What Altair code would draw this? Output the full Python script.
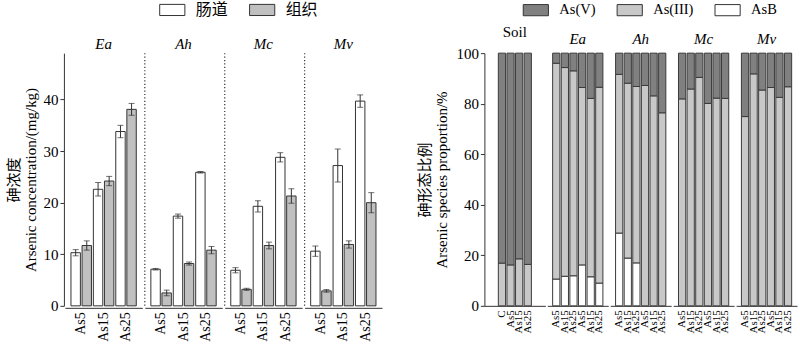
import altair as alt
import pandas as pd
import json

FONT = "Liberation Serif, Noto Sans CJK SC, serif"
DARK = "#333333"

# ---------------- left chart data ----------------
species = ["Ea", "Ah", "Mc", "Mv"]
treatments = ["As5", "As15", "As25"]
tissues = ["肠道", "组织"]
gut_mean = [10.3, 22.6, 33.8, 7.1, 17.4, 25.9, 6.9, 19.3, 28.8, 10.6, 27.2, 39.7]
gut_err = [0.6, 1.3, 1.2, 0.15, 0.4, 0.15, 0.5, 1.1, 0.9, 1.0, 3.2, 1.2]
tissue_mean = [11.7, 24.2, 38.1, 2.5, 8.2, 10.8, 3.2, 11.7, 21.3, 2.9, 11.9, 20.0]
tissue_err = [0.9, 0.9, 1.15, 0.55, 0.3, 0.7, 0.2, 0.65, 1.4, 0.25, 0.7, 1.95]

# ---------------- right chart data ----------------
groups = ["Soil", "Ea", "Ah", "Mc", "Mv"]
soil_labels = ["", "C", "As5", "As15", "As25", ""]
animal_labels = ["As5", "As15", "As25", "As5", "As15", "As25"]
asb = {
    "Soil": [0, 0, 0, 0],
    "Ea": [10.6, 11.7, 11.9, 16.2, 11.5, 9.0],
    "Ah": [28.8, 18.9, 17.0, 0, 0, 0],
    "Mc": [0, 0, 0, 0, 0, 0],
    "Mv": [0, 0, 0, 0, 0, 0],
}
as3 = {
    "Soil": [16.9, 16.2, 18.6, 16.4],
    "Ea": [85.4, 82.6, 81.1, 70.2, 70.6, 77.5],
    "Ah": [62.8, 69.2, 69.8, 87.2, 83.1, 76.4],
    "Mc": [81.9, 85.8, 90.4, 80.1, 82.2, 82.1],
    "Mv": [74.9, 91.8, 85.4, 86.4, 82.5, 86.7],
}
as5 = {
    "Soil": [83.1, 83.8, 81.4, 83.6],
    "Ea": [4.0, 5.7, 7.0, 13.6, 17.9, 13.5],
    "Ah": [8.4, 11.9, 13.2, 12.8, 16.9, 23.6],
    "Mc": [18.1, 14.2, 9.6, 19.9, 17.8, 17.9],
    "Mv": [25.1, 8.2, 14.6, 13.6, 17.5, 13.3],
}
species_types = ["As(V)", "As(III)", "AsB"]

H = 253
SYM = "M-1.4,-0.62H1.4V0.62H-1.4Z"

# ---------------- left chart ----------------
rows = []
for i, sp in enumerate(species):
    for j, t in enumerate(treatments):
        k = i * 3 + j
        rows.append(dict(species=sp, treat=t, tissue=tissues[0], value=gut_mean[k],
                         lo=gut_mean[k] - gut_err[k], hi=gut_mean[k] + gut_err[k]))
        rows.append(dict(species=sp, treat=t, tissue=tissues[1], value=tissue_mean[k],
                         lo=tissue_mean[k] - tissue_err[k], hi=tissue_mean[k] + tissue_err[k]))
ldf = pd.DataFrame(rows)

xscale = alt.Scale(paddingInner=0.085, paddingOuter=0.27)
xo = alt.XOffset("tissue:N", sort=tissues, scale=alt.Scale(paddingInner=0.15, paddingOuter=0))
yscale = alt.Scale(domain=[0, 49], nice=False)

bars = alt.Chart().mark_bar(stroke=DARK, strokeWidth=1).encode(
    x=alt.X("treat:N", sort=treatments, title=None, scale=xscale,
            axis=alt.Axis(labelAngle=-90, ticks=False, labelFontSize=14, labelPadding=4,
                          domainColor=DARK, labelAlign="right", labelBaseline="middle")),
    xOffset=xo,
    y=alt.Y("value:Q", scale=yscale,
            axis=alt.Axis(values=[0, 10, 20, 30, 40], title=["砷浓度", "Arsenic concentration/(mg/kg)"],
                          grid=False, tickSize=4, domainColor=DARK, tickColor=DARK,
                          labelFontSize=15, titleFontSize=15, titlePadding=4)),
    color=alt.Color("tissue:N", scale=alt.Scale(domain=tissues, range=["#ffffff", "#c0c0c0"]),
                    legend=alt.Legend(orient="none", legendX=98, legendY=-53, direction="horizontal",
                                      title=None, symbolType=SYM, symbolSize=324,
                                      symbolStrokeColor=DARK, symbolStrokeWidth=1, labelFontSize=16,
                                      labelOffset=14, columnPadding=18)),
)
err_rule = alt.Chart().mark_rule(color=DARK, strokeWidth=1).encode(
    x=alt.X("treat:N", sort=treatments), xOffset=xo, y=alt.Y("lo:Q"), y2="hi:Q")
cap_lo = alt.Chart().mark_tick(color=DARK, thickness=1, size=6, orient="horizontal").encode(
    x=alt.X("treat:N", sort=treatments), xOffset=xo, y=alt.Y("lo:Q"))
cap_hi = alt.Chart().mark_tick(color=DARK, thickness=1, size=6, orient="horizontal").encode(
    x=alt.X("treat:N", sort=treatments), xOffset=xo, y=alt.Y("hi:Q"))
sep = alt.Chart().mark_rule(color=DARK, strokeDash=[1.2, 2.2], strokeWidth=1.2).encode(
    x=alt.value(0), y=alt.value(0), y2=alt.value(H)
).transform_filter(
    (alt.datum.species != "Ea") & (alt.datum.treat == "As5") & (alt.datum.tissue == tissues[0])
)

left = alt.layer(bars, err_rule, cap_lo, cap_hi, sep, data=ldf).properties(
    width=77.5, height=H
).facet(
    column=alt.Column("species:N", sort=species, title=None,
                      header=alt.Header(labelFontStyle="italic", labelFontSize=15, labelFont=FONT,
                                        labelFontWeight="normal", labelPadding=-1, labelOrient="top"))
).properties(spacing=0)

# ---------------- right chart ----------------
order_map = {"AsB": 0, "As(III)": 1, "As(V)": 2}
panels = []
for g in groups:
    first = g == "Soil"
    labels = soil_labels if first else animal_labels
    start = 1 if first else 0
    r = []
    for k in range(len(asb[g])):
        for st, src in (("AsB", asb), ("As(III)", as3), ("As(V)", as5)):
            v = src[g][k]
            if v > 0:
                r.append(dict(key=str(k + start), stype=st, value=v, ord=order_map[st]))
    d = pd.DataFrame(r)
    lab_expr = json.dumps(labels) + "[toNumber(datum.value)]"
    yaxis = alt.Axis(values=[0, 20, 40, 60, 80, 100], title=["砷形态比例", "Arsenic species proportion/%"],
                     grid=False, tickSize=4, domainColor=DARK, tickColor=DARK,
                     labelFontSize=15, titleFontSize=15, titlePadding=6) if first else None
    ch = alt.Chart(d).mark_bar(stroke="#3a3a3a", strokeWidth=1).encode(
        x=alt.X("key:N", title=None,
                scale=alt.Scale(domain=[str(k) for k in range(6)], paddingInner=0.16, paddingOuter=0.62),
                axis=alt.Axis(labelAngle=-90, ticks=False, labelFontSize=11, labelPadding=4,
                              domainColor=DARK, labelAlign="right", labelBaseline="middle",
                              labelExpr=lab_expr)),
        y=alt.Y("value:Q", stack="zero", scale=alt.Scale(domain=[0, 100], nice=False), axis=yaxis),
        color=alt.Color("stype:N", scale=alt.Scale(domain=species_types,
                                                   range=["#808080", "#c8c8c8", "#ffffff"]),
                        legend=alt.Legend(orient="none", legendX=42, legendY=-53, direction="horizontal",
                                          title=None, symbolType=SYM, symbolSize=324,
                                          symbolStrokeColor=DARK, symbolStrokeWidth=1, labelFontSize=14.5,
                                          labelOffset=14, columnPadding=18) if first else None),
        order=alt.Order("ord:Q", sort="ascending"),
    ).properties(
        width=61, height=H,
        title=alt.Title(g, fontSize=15, font=FONT, fontWeight="normal", frame="group",
                        fontStyle="normal" if first else "italic", offset=6)
    )
    panels.append(ch)

right = alt.hconcat(*panels, spacing=0)

chart = alt.hconcat(left, right, spacing=35).resolve_scale(color="independent").properties(
    padding={"left": 7, "top": 0, "right": 2, "bottom": 2}
).configure(
    font=FONT
).configure_view(
    stroke="transparent"
).configure_axis(
    labelFont=FONT, titleFont=FONT, titleFontWeight="normal", labelColor="black", titleColor="black"
).configure_title(
    font=FONT, fontWeight="normal", color="black"
).configure_legend(labelFont=FONT, labelColor="black").configure_header(
    labelFont=FONT, labelFontWeight="normal", labelColor="black")

chart.save("out.html", embed_options={"renderer": "svg", "actions": False})
